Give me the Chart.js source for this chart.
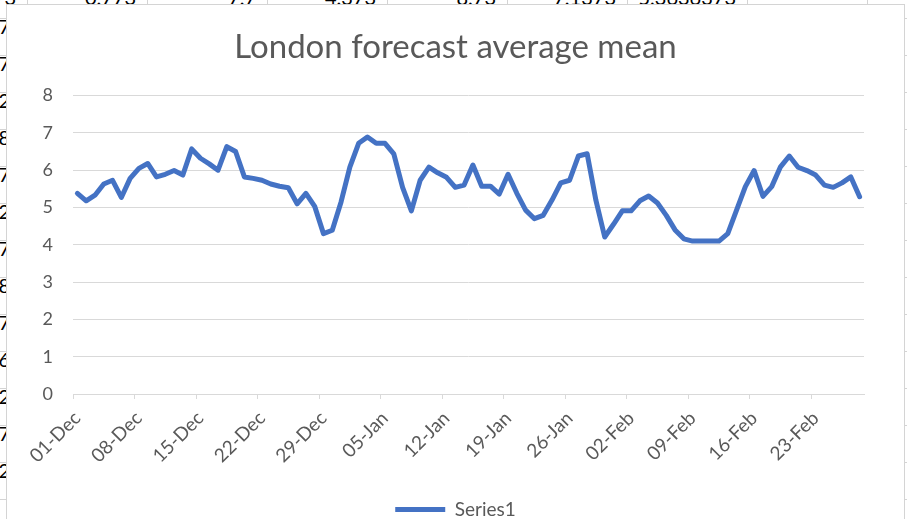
<!DOCTYPE html>
<html>
<head>
<meta charset="utf-8">
<script src="https://cdn.jsdelivr.net/npm/chart.js@4"></script>
<style>
  html, body { margin: 0; padding: 0; }
  body { width: 907px; height: 519px; position: relative; overflow: hidden; background: #fff; font-family: Lato, sans-serif; }
  #sheet {
    position: absolute; left: 0; top: 0; width: 907px; height: 519px;
    background-image:
      repeating-linear-gradient(to right, transparent 0 27px, #d4d4d4 27px 28px, transparent 28px 120px),
      repeating-linear-gradient(to bottom, transparent 0 18px, #d4d4d4 18px 19px, transparent 19px 37px);
  }
  .cell { position: absolute; font-size: 20px; color: #000; text-align: right; width: 110px; line-height: 20px; }
  #box {
    position: absolute; left: 6px; top: 4px; width: 897px; height: 520px;
    border: 1px solid #d4d4d4; background: #fff; overflow: hidden;
  }
  #wrap { position: relative; width: 897px; height: 524px; }
</style>
</head>
<body>
<div id="sheet"></div>
<div id="box"><div id="wrap"><canvas id="lineChart"></canvas></div></div>
<script>
// spreadsheet cells peeking out behind the chart
const topCells = ['5.373', '0.773', '7.7', '4.373', '8.73', '7.1373', '5.3636373'];
const leftCells = ['7', '7', '2', '8', '7', '2', '7', '8', '7', '6', '2', '7', '2'];

const sheet = document.getElementById('sheet');
topCells.forEach(function(txt, i) {
  const d = document.createElement('div');
  d.className = 'cell';
  d.textContent = txt;
  d.style.left = (i * 120 - 94) + 'px';
  d.style.top = '-13px';
  sheet.appendChild(d);
});
leftCells.forEach(function(txt, i) {
  const d = document.createElement('div');
  d.className = 'cell';
  d.textContent = txt;
  d.style.left = '-100px';
  d.style.top = (16 + i * 37) + 'px';
  sheet.appendChild(d);
});

// categories: one per day, 01-Dec .. 28-Feb
const months = ['Dec', 'Jan', 'Feb'];
const monthDays = [31, 31, 28];
const days = [];
months.forEach(function(m, k) {
  for (let d = 1; d <= monthDays[k]; d++) {
    days.push((d < 10 ? '0' : '') + d + '-' + m);
  }
});

const tickLabels = ['01-Dec', '08-Dec', '15-Dec', '22-Dec', '29-Dec', '05-Jan', '12-Jan',
  '19-Jan', '26-Jan', '02-Feb', '09-Feb', '16-Feb', '23-Feb'];

const series1 = [
  5.38, 5.18, 5.33, 5.63, 5.73, 5.27, 5.78, 6.05, 6.18, 5.82,
  5.89, 5.99, 5.87, 6.57, 6.32, 6.17, 6.00, 6.63, 6.50, 5.82,
  5.78, 5.73, 5.63, 5.57, 5.53, 5.10, 5.38, 5.03, 4.30, 4.39,
  5.15, 6.08, 6.72, 6.89, 6.72, 6.72, 6.44, 5.54, 4.91, 5.73,
  6.08, 5.93, 5.81, 5.54, 5.60, 6.14, 5.57, 5.57, 5.36, 5.89,
  5.38, 4.93, 4.70, 4.79, 5.20, 5.66, 5.73, 6.38, 6.44, 5.19,
  4.21, 4.55, 4.91, 4.91, 5.18, 5.31, 5.12, 4.79, 4.40, 4.16,
  4.10, 4.10, 4.10, 4.10, 4.30, 4.93, 5.56, 5.99, 5.30, 5.56,
  6.09, 6.38, 6.08, 5.99, 5.87, 5.60, 5.54, 5.66, 5.82, 5.29
];

const gridGray = '#d9d9d9';
const textGray = '#595959';

function isTick(index) {
  return tickLabels.indexOf(days[index]) !== -1;
}

const ctx = document.getElementById('lineChart').getContext('2d');

new Chart(ctx, {
  type: 'line',
  data: {
    labels: days,
    datasets: [
      {
        label: 'Series1',
        data: series1,
        borderColor: '#4472c4',
        backgroundColor: '#4472c4',
        borderWidth: 5,
        borderJoinStyle: 'round',
        borderCapStyle: 'round',
        pointRadius: 0,
        tension: 0
      }
    ]
  },
  options: {
    responsive: true,
    maintainAspectRatio: false,
    animation: false,
    layout: { padding: 0 },
    plugins: {
      title: {
        display: true,
        text: 'London forecast average mean',
        color: textGray,
        font: { family: 'Lato', size: 33, weight: 'normal', lineHeight: 1.2 },
        padding: { top: 23, bottom: 28 }
      },
      legend: {
        position: 'bottom',
        labels: {
          color: textGray,
          font: { family: 'Lato', size: 19, lineHeight: 1 },
          usePointStyle: true,
          pointStyle: 'line',
          pointStyleWidth: 50,
          padding: 2
        }
      },
      tooltip: { enabled: false }
    },
    scales: {
      x: {
        offset: true,
        border: { display: true, color: gridGray, width: 1 },
        grid: {
          offset: true,
          drawOnChartArea: false,
          drawTicks: true,
          tickLength: 5,
          color: function(c) { return isTick(c.index) ? gridGray : 'rgba(0,0,0,0)'; }
        },
        ticks: {
          autoSkip: false,
          minRotation: 45,
          maxRotation: 45,
          padding: 8,
          color: textGray,
          font: { family: 'Lato', size: 19 },
          callback: function(value, index) { return isTick(index) ? days[index] : ''; }
        },
        afterFit: function(scale) { scale.height = 104; }
      },
      y: {
        min: 0,
        max: 8,
        border: { display: false },
        grid: { color: gridGray, lineWidth: 1, drawTicks: false },
        ticks: {
          stepSize: 1,
          padding: 20,
          color: textGray,
          font: { family: 'Lato', size: 18 }
        },
        afterFit: function(scale) { scale.width = 66; }
      },
      // empty right-hand strip so the title and legend stay centred on the whole box
      spacer: {
        type: 'linear',
        position: 'right',
        display: true,
        border: { display: false },
        grid: { display: false },
        ticks: { display: false },
        afterFit: function(scale) { scale.width = 40; }
      }
    }
  }
});
</script>
</body>
</html>
